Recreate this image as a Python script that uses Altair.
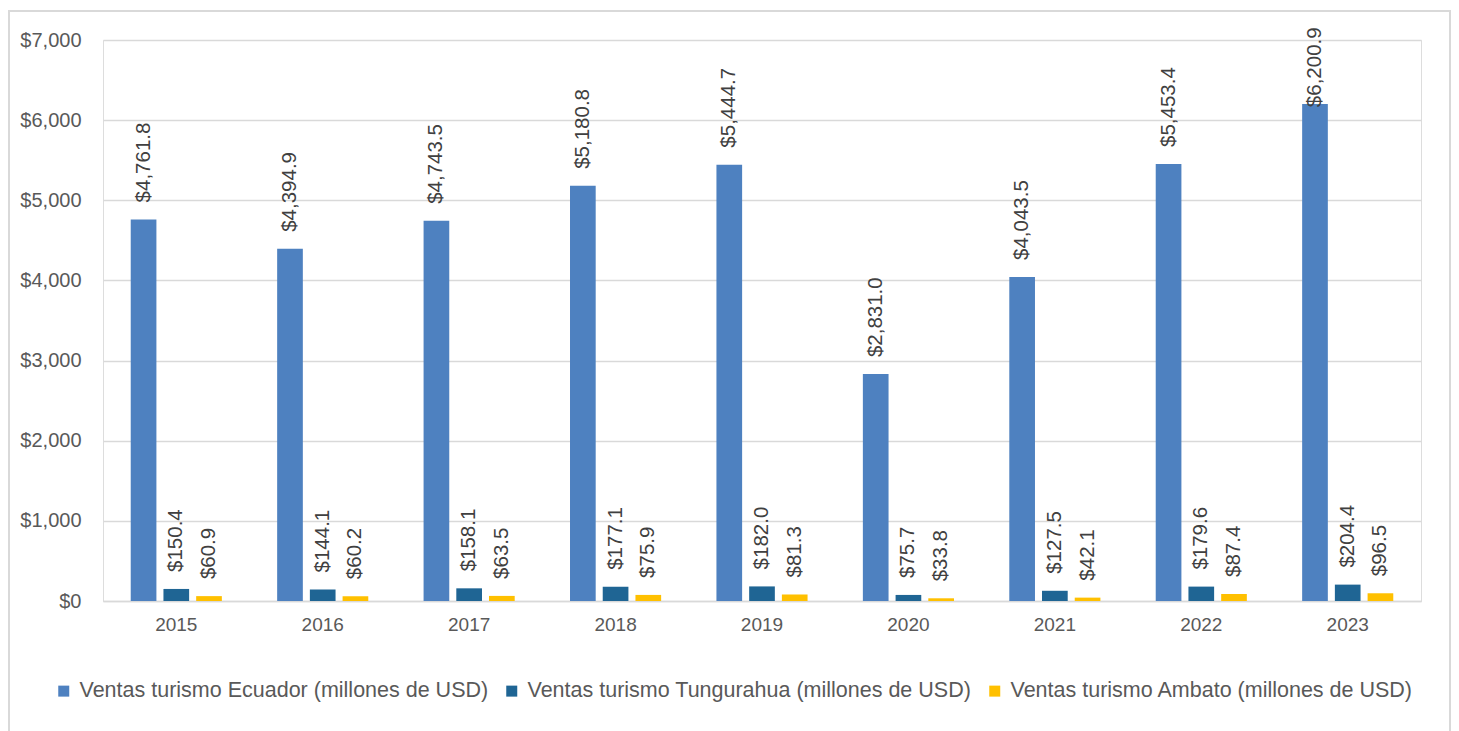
import altair as alt
import pandas as pd

years = ["2015", "2016", "2017", "2018", "2019", "2020", "2021", "2022", "2023"]
series_names = [
    "Ventas turismo Ecuador (millones de USD)",
    "Ventas turismo Tungurahua (millones de USD)",
    "Ventas turismo Ambato (millones de USD)",
]
ecuador = [4761.8, 4394.9, 4743.5, 5180.8, 5444.7, 2831.0, 4043.5, 5453.4, 6200.9]
tungurahua = [150.4, 144.1, 158.1, 177.1, 182.0, 75.7, 127.5, 179.6, 204.4]
ambato = [60.9, 60.2, 63.5, 75.9, 81.3, 33.8, 42.1, 87.4, 96.5]
y_ticks = [0, 1000, 2000, 3000, 4000, 5000, 6000, 7000]
colors = ["#4E81C0", "#1F6594", "#FFC000"]

rows = []
for name, vals in zip(series_names, [ecuador, tungurahua, ambato]):
    for y, v in zip(years, vals):
        rows.append({"year": y, "serie": name, "valor": v})
df = pd.DataFrame(rows)

FONT = "Liberation Sans"
W, H = 1318, 561
LABEL_CAP = 5950  # labels kept inside the chart area (as the spreadsheet does)

base = alt.Chart(df).encode(
    x=alt.X("year:N", title=None,
            scale=alt.Scale(paddingInner=0.333, paddingOuter=0.167),
            axis=alt.Axis(labelAngle=0, ticks=False, domain=True, domainColor="#d9d9d9",
                          domainWidth=1.5, labelPadding=14, labelFontSize=19,
                          labelColor="#595959", labelFont=FONT, grid=False)),
    xOffset=alt.XOffset("serie:N", sort=series_names,
                        scale=alt.Scale(paddingInner=0.215, paddingOuter=0.1)),
)

yscale = alt.Scale(domain=[0, 7000])
yaxis = alt.Axis(values=y_ticks, format="$,.0f", ticks=False, domain=False, labelPadding=22,
                 labelFontSize=20, labelColor="#595959", labelFont=FONT,
                 gridColor="#d9d9d9", gridWidth=1.5)

bars = base.mark_bar().encode(
    y=alt.Y("valor:Q", title=None, scale=yscale, axis=yaxis),
    color=alt.Color("serie:N", sort=series_names,
                    scale=alt.Scale(domain=series_names, range=colors),
                    legend=alt.Legend(title=None, orient="none", legendX=-50, legendY=640,
                                      direction="horizontal", columns=3, columnPadding=12,
                                      symbolType="square", symbolSize=121, symbolStrokeWidth=0,
                                      labelFontSize=21.5, labelColor="#595959", labelFont=FONT,
                                      labelLimit=700, labelOffset=5, padding=0))
)

labels = base.transform_calculate(
    pos=f"min(datum.valor, {LABEL_CAP})"
).mark_text(angle=270, align="left", baseline="middle", dx=17,
            fontSize=20.5, font=FONT, color="#404040").encode(
    y=alt.Y("pos:Q", title=None, scale=yscale, axis=yaxis),
    text=alt.Text("valor:Q", format="$,.1f"),
)

frame = alt.Chart(alt.Data(values=[{"a": 1}])).mark_rect(
    fill="transparent", stroke="#d9d9d9", strokeWidth=2
).encode(
    x=alt.value(-94), x2=alt.value(1347), y=alt.value(-29), y2=alt.value(720)
)

chart = alt.layer(frame, bars, labels).properties(
    width=W, height=H,
    autosize=alt.AutoSizeParams(type="none"),
    padding={"left": 95, "top": 32, "right": 30, "bottom": 130},
).configure_view(strokeWidth=0, stroke="transparent").configure(background="white")

chart.save("out.html", embed_options={"renderer": "svg", "actions": False})
